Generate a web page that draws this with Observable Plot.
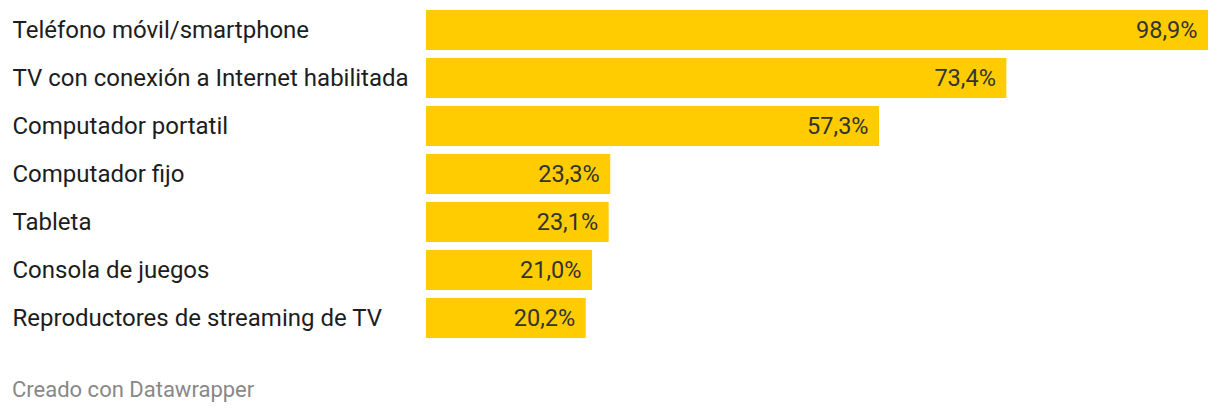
<!DOCTYPE html>
<html>
<head>
<meta charset="utf-8">
<script src="https://cdn.jsdelivr.net/npm/d3@7"></script>
<script src="https://cdn.jsdelivr.net/npm/@observablehq/plot@0.6"></script>
<style>
  html, body { margin: 0; padding: 0; background: #fff; }
  body { width: 1220px; height: 414px; overflow: hidden; font-family: Roboto, sans-serif; }
  #footer { position: absolute; left: 12px; top: 375px; font-size: 22px; line-height: 30px; color: #888; font-family: Roboto, sans-serif; }
  svg { display: block; }
</style>
</head>
<body>
<div id="chart"></div>
<div id="footer">Creado con Datawrapper</div>
<script>
const categories = [
  "Teléfono móvil/smartphone",
  "TV con conexión a Internet habilitada",
  "Computador portatil",
  "Computador fijo",
  "Tableta",
  "Consola de juegos",
  "Reproductores de streaming de TV"
];
const values = [98.9, 73.4, 57.3, 23.3, 23.1, 21.0, 20.2];

const data = categories.map((c, i) => ({cat: c, value: values[i]}));
const fmt = v => v.toFixed(1).replace(".", ",") + "%";

const chart = Plot.plot({
  width: 1220,
  height: 350,
  marginLeft: 426,
  marginRight: 12,
  marginTop: 6,
  marginBottom: 8,
  style: {fontFamily: "Roboto, sans-serif", background: "#fff"},
  x: {domain: [0, 98.9], axis: null},
  y: {domain: categories, axis: null, paddingInner: 8/48, paddingOuter: 4/48},
  marks: [
    Plot.barX(data, {y: "cat", x: "value", fill: "#fecc00"}),
    Plot.text(data, {y: "cat", text: "cat", frameAnchor: "left", textAnchor: "start", dx: -414, fontSize: 24, fill: "#1d1d1d"}),
    Plot.text(data, {y: "cat", x: "value", text: d => fmt(d.value), textAnchor: "end", dx: -11, fontSize: 23.5, fill: "#333"})
  ]
});
document.getElementById("chart").appendChild(chart);
</script>
</body>
</html>
